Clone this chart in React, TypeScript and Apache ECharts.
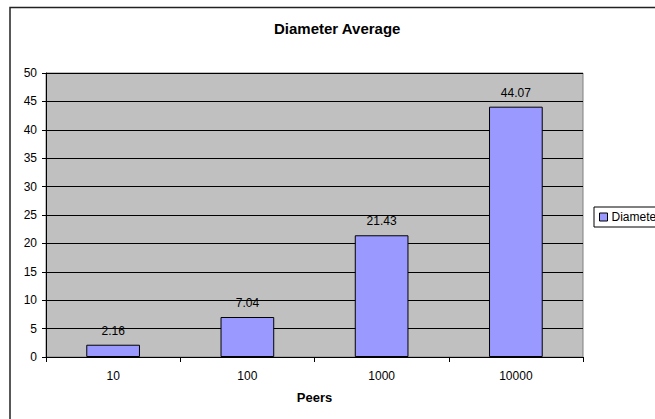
import React, { useEffect, useRef } from "react";
import * as echarts from "echarts";

const categories = ["10", "100", "1000", "10000"];
const diameterValues = [2.16, 7.04, 21.43, 44.07];
const seriesName = "Diameter Average";
const titleText = "Diameter Average";
const xAxisName = "Peers";

export default function App() {
  const ref = useRef<HTMLDivElement>(null);
  useEffect(() => {
    if (!ref.current) return;
    const chart = echarts.init(ref.current, undefined, { renderer: "svg" });
    const font = "'Liberation Sans', Arial, sans-serif";
    chart.setOption({
      animation: false,
      backgroundColor: "#ffffff",
      textStyle: { fontFamily: font },
      title: {
        text: titleText,
        left: 274,
        top: 21,
        padding: 0,
        textStyle: { fontFamily: font, fontSize: 15, fontWeight: "bold", color: "#000" },
      },
      legend: {
        left: 594,
        top: 207,
        padding: [4, 5, 4, 5],
        borderColor: "#000",
        borderWidth: 1,
        backgroundColor: "#fff",
        itemWidth: 8,
        itemHeight: 8,
        itemGap: 5,
        icon: "rect",
        itemStyle: { color: "#9999FF", borderColor: "#000", borderWidth: 1 },
        textStyle: { fontFamily: font, fontSize: 12, color: "#000", padding: [0, 0, 0, -1] },
        data: [seriesName],
      },
      graphic: [
        {
          type: "rect",
          shape: { x: 10, y: 7.5, width: 800, height: 600 },
          style: { fill: "none", stroke: "#222", lineWidth: 1.5 },
          silent: true,
          z: -1,
        },
      ],
      grid: {
        left: 46,
        right: 72,
        top: 73,
        bottom: 62,
        show: true,
        backgroundColor: "#C0C0C0",
        borderColor: "#808080",
        borderWidth: 1,
      },
      xAxis: {
        type: "category",
        data: categories,
        name: xAxisName,
        nameLocation: "middle",
        nameGap: 34,
        nameTextStyle: { fontFamily: font, fontSize: 13, fontWeight: "bold", color: "#000" },
        axisLine: { show: true, lineStyle: { color: "#000", width: 1 } },
        axisTick: { show: true, alignWithLabel: false, length: 5, lineStyle: { color: "#000" } },
        axisLabel: { margin: 13, fontFamily: font, fontSize: 12, color: "#000" },
        splitLine: { show: false },
      },
      yAxis: {
        type: "value",
        min: 0,
        max: 50,
        interval: 5,
        axisLine: { show: true, lineStyle: { color: "#000", width: 1 } },
        axisTick: { show: true, length: 4, lineStyle: { color: "#000" } },
        axisLabel: { margin: 9, fontFamily: font, fontSize: 12, color: "#000" },
        splitLine: { show: true, lineStyle: { color: "#000", width: 1 } },
      },
      series: [
        {
          name: seriesName,
          type: "bar",
          data: diameterValues,
          barWidth: "40%",
          itemStyle: { color: "#9999FF", borderColor: "#000", borderWidth: 1 },
          label: {
            show: true,
            position: "top",
            distance: 8,
            fontFamily: font,
            fontSize: 12,
            color: "#000",
          },
        },
      ],
    });
    return () => chart.dispose();
  }, []);
  return (
    <div
      ref={ref}
      style={{ position: "absolute", left: 0, top: 0, width: 655, height: 419 }}
    />
  );
}
